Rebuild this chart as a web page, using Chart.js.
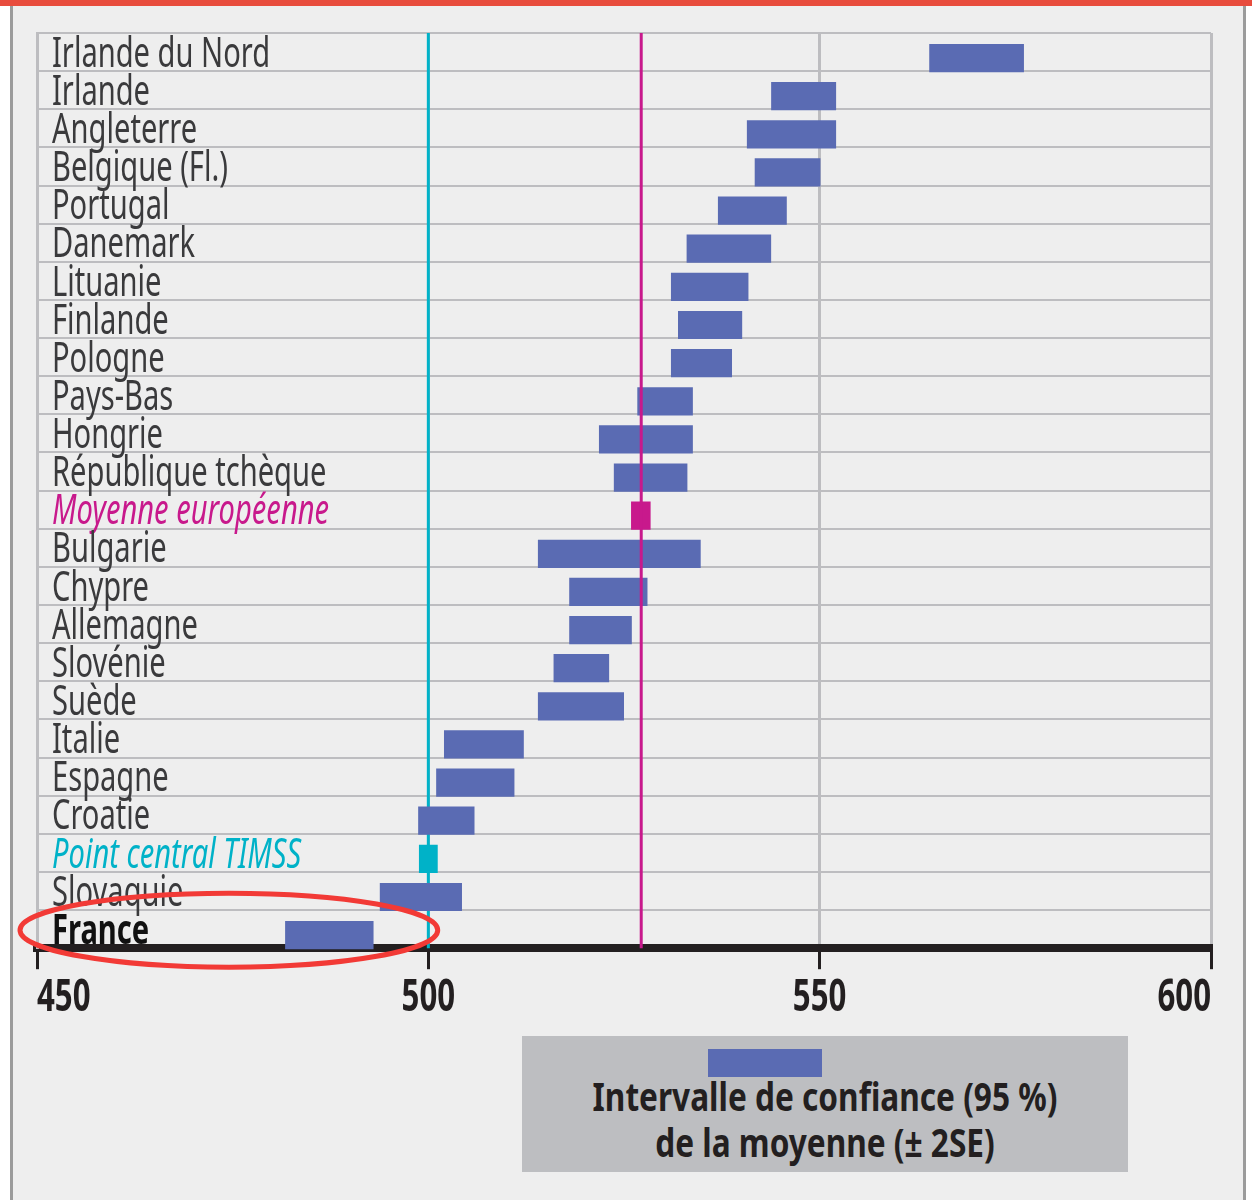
<!DOCTYPE html>
<html lang="fr">
<head>
<meta charset="utf-8">
<script src="https://cdn.jsdelivr.net/npm/chart.js@4.4.0/dist/chart.umd.min.js"></script>
<style>
  body { margin: 0; background: #fff; width: 1252px; height: 1200px; position: relative; overflow: hidden;
         font-family: 'Noto Sans', sans-serif; }
  #topbar { position: absolute; left: 0; top: 0; width: 1252px; height: 6px; background: #e84c3d; }
  #frame { position: absolute; left: 10px; top: 6px; width: 1230px; height: 1194px; background: #eeeeee;
           border-left: 3px solid #9b9b9b; border-right: 3px solid #9b9b9b; }
  #chart { position: absolute; left: 0; top: 0; }
  #legend { position: absolute; left: 522px; top: 1036px; width: 606px; height: 136px; background: #bdbec1; }
  #legend .swatch { position: absolute; left: 186px; top: 13px; width: 114px; height: 28px; background: #5a6bb3; }
  #legend .txt { position: absolute; left: 0; top: 37px; width: 100%; text-align: center; font-weight: bold;
                 font-size: 40px; line-height: 46px; color: #231f20; transform: scaleX(0.79); }
</style>
</head>
<body>
<div id="topbar"></div>
<div id="frame"></div>
<canvas id="chart" width="1252" height="1037"></canvas>
<div id="legend">
  <div class="swatch"></div>
  <div class="txt">Intervalle de confiance (95 %)<br>de la moyenne (± 2SE)</div>
</div>
<script>
// pays, du haut vers le bas
var countries = ["Irlande du Nord", "Irlande", "Angleterre", "Belgique (Fl.)", "Portugal", "Danemark",
  "Lituanie", "Finlande", "Pologne", "Pays-Bas", "Hongrie", "République tchèque", "Moyenne européenne",
  "Bulgarie", "Chypre", "Allemagne", "Slovénie", "Suède", "Italie", "Espagne", "Croatie",
  "Point central TIMSS", "Slovaquie", "France"];
// bornes basse / haute de l'intervalle de confiance
var lowBound  = [564, 543.8, 540.7, 541.7, 537, 533, 531, 531.9, 531, 526.7, 521.8, 523.7, 525.9,
  514, 518, 518, 516, 514, 502, 501, 498.7, 498.8, 493.8, 481.7];
var highBound = [576.1, 552.1, 552.1, 550.1, 545.8, 543.8, 540.9, 540.1, 538.8, 533.8, 533.8, 533.1, 528.4,
  534.8, 528, 526, 523.1, 525, 512.2, 511, 505.9, 501.2, 504.3, 493];
var xTicks = [450, 500, 550, 600];
var timssCentre = 500;
var euroMean = 527.2;

var BLUE = '#5a6bb3', PINK = '#c8198c', CYAN = '#00b2c8', GRID = '#bdbdc0', INK = '#231f20';
var FONT = "'Noto Sans', sans-serif";
var SQUEEZE = 0.71;   // no condensed face installed, so squeeze the text horizontally

var intervals = [];
var colors = [];
for (var i = 0; i < countries.length; i++) {
  intervals.push([lowBound[i], highBound[i]]);
  if (countries[i] == "Moyenne européenne") colors.push(PINK);
  else if (countries[i] == "Point central TIMSS") colors.push(CYAN);
  else colors.push(BLUE);
}

var canvas = document.getElementById('chart');
var c2d = canvas.getContext('2d');
var rawFillText = c2d.fillText;
c2d.fillText = function(t, x, y) {
  this.save();
  this.translate(x, y);
  this.scale(SQUEEZE, 1);
  rawFillText.call(this, t, 0, 0);
  this.restore();
};

function vline(chart, value, color) {
  var ctx = chart.ctx, a = chart.chartArea;
  var x = chart.scales.x.getPixelForValue(value);
  ctx.save();
  ctx.strokeStyle = color;
  ctx.lineWidth = 3;
  ctx.beginPath();
  ctx.moveTo(x, a.top);
  ctx.lineTo(x, a.bottom);
  ctx.stroke();
  ctx.restore();
}

var refLines = {
  id: 'refLines',
  beforeDatasetsDraw: function(chart) {
    vline(chart, timssCentre, CYAN);
    chart.ctx.save();
    chart.ctx.translate(0, 6);   // bars sit low in their row
  },
  afterDatasetsDraw: function(chart) {
    chart.ctx.restore();
    vline(chart, euroMean, PINK);
  },
  afterDraw: function(chart) {
    // red ellipse around France
    var ctx = chart.ctx, a = chart.chartArea;
    var y = chart.scales.y.getPixelForValue(countries.length - 1) + 1;
    var x0 = a.left - 17, x1 = chart.scales.x.getPixelForValue(501.2);
    ctx.save();
    ctx.strokeStyle = '#f23a36';
    ctx.lineWidth = 5;
    ctx.beginPath();
    ctx.ellipse((x0 + x1) / 2, y, (x1 - x0) / 2, 37, 0, 0, Math.PI * 2);
    ctx.stroke();
    ctx.restore();
  }
};

new Chart(canvas, {
  type: 'bar',
  data: {
    labels: countries,
    datasets: [{
      data: intervals,
      backgroundColor: colors,
      borderWidth: 0,
      barPercentage: 0.74,
      categoryPercentage: 1
    }]
  },
  options: {
    indexAxis: 'y',
    responsive: false,
    animation: false,
    devicePixelRatio: 1,
    layout: { padding: { left: 37, right: 41, top: 33, bottom: 9 } },
    plugins: { legend: { display: false }, tooltip: { enabled: false } },
    scales: {
      x: {
        type: 'linear',
        min: 450,
        max: 600,
        afterBuildTicks: function(scale) {
          scale.ticks = xTicks.map(function(v) { return { value: v }; });
        },
        grid: { color: GRID, lineWidth: 3, tickColor: INK, tickWidth: 3, tickLength: 21 },
        border: { color: INK, width: 8 },
        ticks: {
          align: 'inner',
          padding: 3,
          color: INK,
          font: { family: FONT, size: 44, weight: 'bold' }
        }
      },
      y: {
        afterFit: function(scale) {
          scale.width = 0;
          scale.paddingTop = 0;
          scale.paddingBottom = 0;
        },
        grid: { color: GRID, lineWidth: 2, drawTicks: false },
        border: { color: GRID, width: 3 },
        ticks: {
          autoSkip: false,
          mirror: true,
          padding: 15,
          labelOffset: 3,
          color: function(c) {
            if (countries[c.index] == "Moyenne européenne") return PINK;
            if (countries[c.index] == "Point central TIMSS") return CYAN;
            if (countries[c.index] == "France") return '#111';
            return '#3a3a3c';
          },
          font: function(c) {
            var name = countries[c.index];
            var f = { family: FONT, size: 41 };
            if (name == "Moyenne européenne" || name == "Point central TIMSS") f.style = 'italic';
            if (name == "France") f.weight = 'bold';
            return f;
          }
        }
      }
    }
  },
  plugins: [refLines]
});
</script>
</body>
</html>
